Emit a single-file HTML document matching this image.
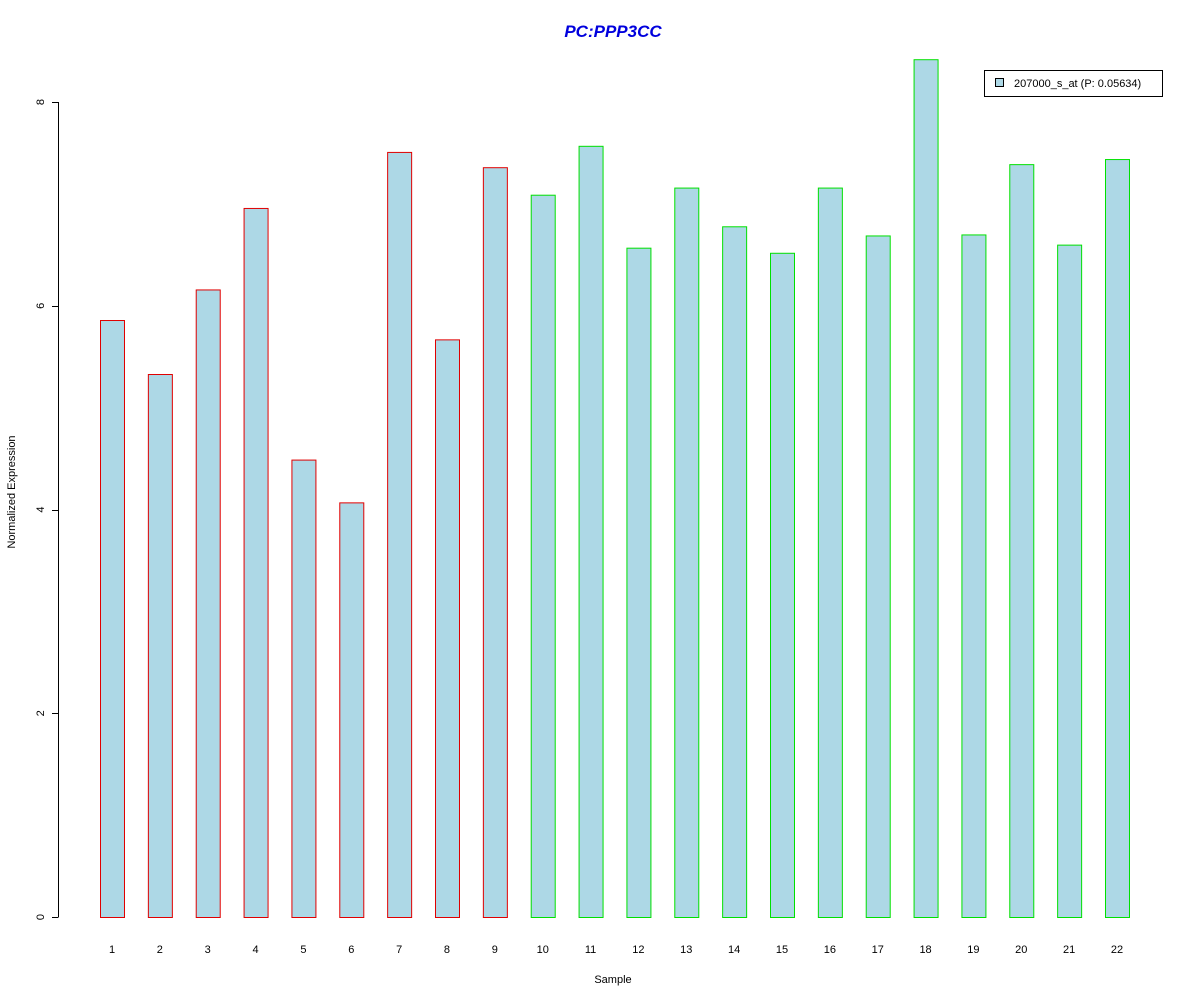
<!DOCTYPE html>
<html><head><meta charset="utf-8"><style>
body{margin:0;background:#fff;}
svg{display:block;font-family:"Liberation Sans",Arial,sans-serif;}
</style></head><body>
<svg id="chart" width="1200" height="1000">
<text x="613" y="37" text-anchor="middle" font-size="17" font-weight="bold" font-style="italic" fill="#0000dd">PC:PPP3CC</text>
<g id="bars"></g>
<g id="yaxis"></g>
<g id="xlabels"></g>
<text x="613" y="983" text-anchor="middle" font-size="11">Sample</text>
<text transform="translate(15,492) rotate(-90)" text-anchor="middle" font-size="11">Normalized Expression</text>
<g>
<rect x="984.5" y="70.5" width="178" height="26" fill="#fff" stroke="#000"/>
<rect x="995.5" y="78.5" width="8" height="8" fill="#add8e6" stroke="#000"/>
<text x="1014" y="87" font-size="11">207000_s_at (P: 0.05634)</text>
</g>
</svg>
<script>
const categories=["1","2","3","4","5","6","7","8","9","10","11","12","13","14","15","16","17","18","19","20","21","22"];
const values=[5.86,5.33,6.16,6.96,4.49,4.07,7.51,5.67,7.36,7.09,7.57,6.57,7.16,6.78,6.52,7.16,6.69,8.42,6.70,7.39,6.60,7.44];
const groups=["r","r","r","r","r","r","r","r","r","g","g","g","g","g","g","g","g","g","g","g","g","g"];
const yTicks=[0,2,4,6,8];
const NS="http://www.w3.org/2000/svg";
function yScale(v){return 917-v*101.875;}
function xScale(i){return 100+i*47.857;}
const bars=document.getElementById('bars');
const xl=document.getElementById('xlabels');
values.forEach((v,i)=>{
  const r=document.createElementNS(NS,'rect');
  
  
  r.setAttribute('x',xScale(i)+0.5);
  r.setAttribute('y',yScale(v)+0.5);
  r.setAttribute('width',24);
  r.setAttribute('height',917-yScale(v));
  r.setAttribute('fill','#add8e6');
  r.setAttribute('stroke',groups[i]==='r'?'#e00000':'#00e000');
  bars.appendChild(r);
  const t=document.createElementNS(NS,'text');
  
  
  t.setAttribute('x',xScale(i)+12);
  t.setAttribute('y',953);
  t.setAttribute('text-anchor','middle');
  t.setAttribute('font-size','11');
  t.textContent=categories[i];
  xl.appendChild(t);
});
const ya=document.getElementById('yaxis');
const ax=document.createElementNS(NS,'line');


ax.setAttribute('x1',58.5);ax.setAttribute('x2',58.5);
ax.setAttribute('y1',yScale(0));ax.setAttribute('y2',yScale(8));
ax.setAttribute('stroke','#000');
ya.appendChild(ax);
yTicks.forEach(v=>{
  const l=document.createElementNS(NS,'line');
  
  
  l.setAttribute('x1',52);l.setAttribute('x2',58.5);
  l.setAttribute('y1',Math.round(yScale(v))+0.5);l.setAttribute('y2',Math.round(yScale(v))+0.5);
  l.setAttribute('stroke','#000');
  ya.appendChild(l);
  const t=document.createElementNS(NS,'text');
  
  
  t.setAttribute('transform','translate(44,'+yScale(v)+') rotate(-90)');
  t.setAttribute('text-anchor','middle');
  t.setAttribute('font-size','11');
  t.textContent=v;
  ya.appendChild(t);
});
</script>
</body></html>
